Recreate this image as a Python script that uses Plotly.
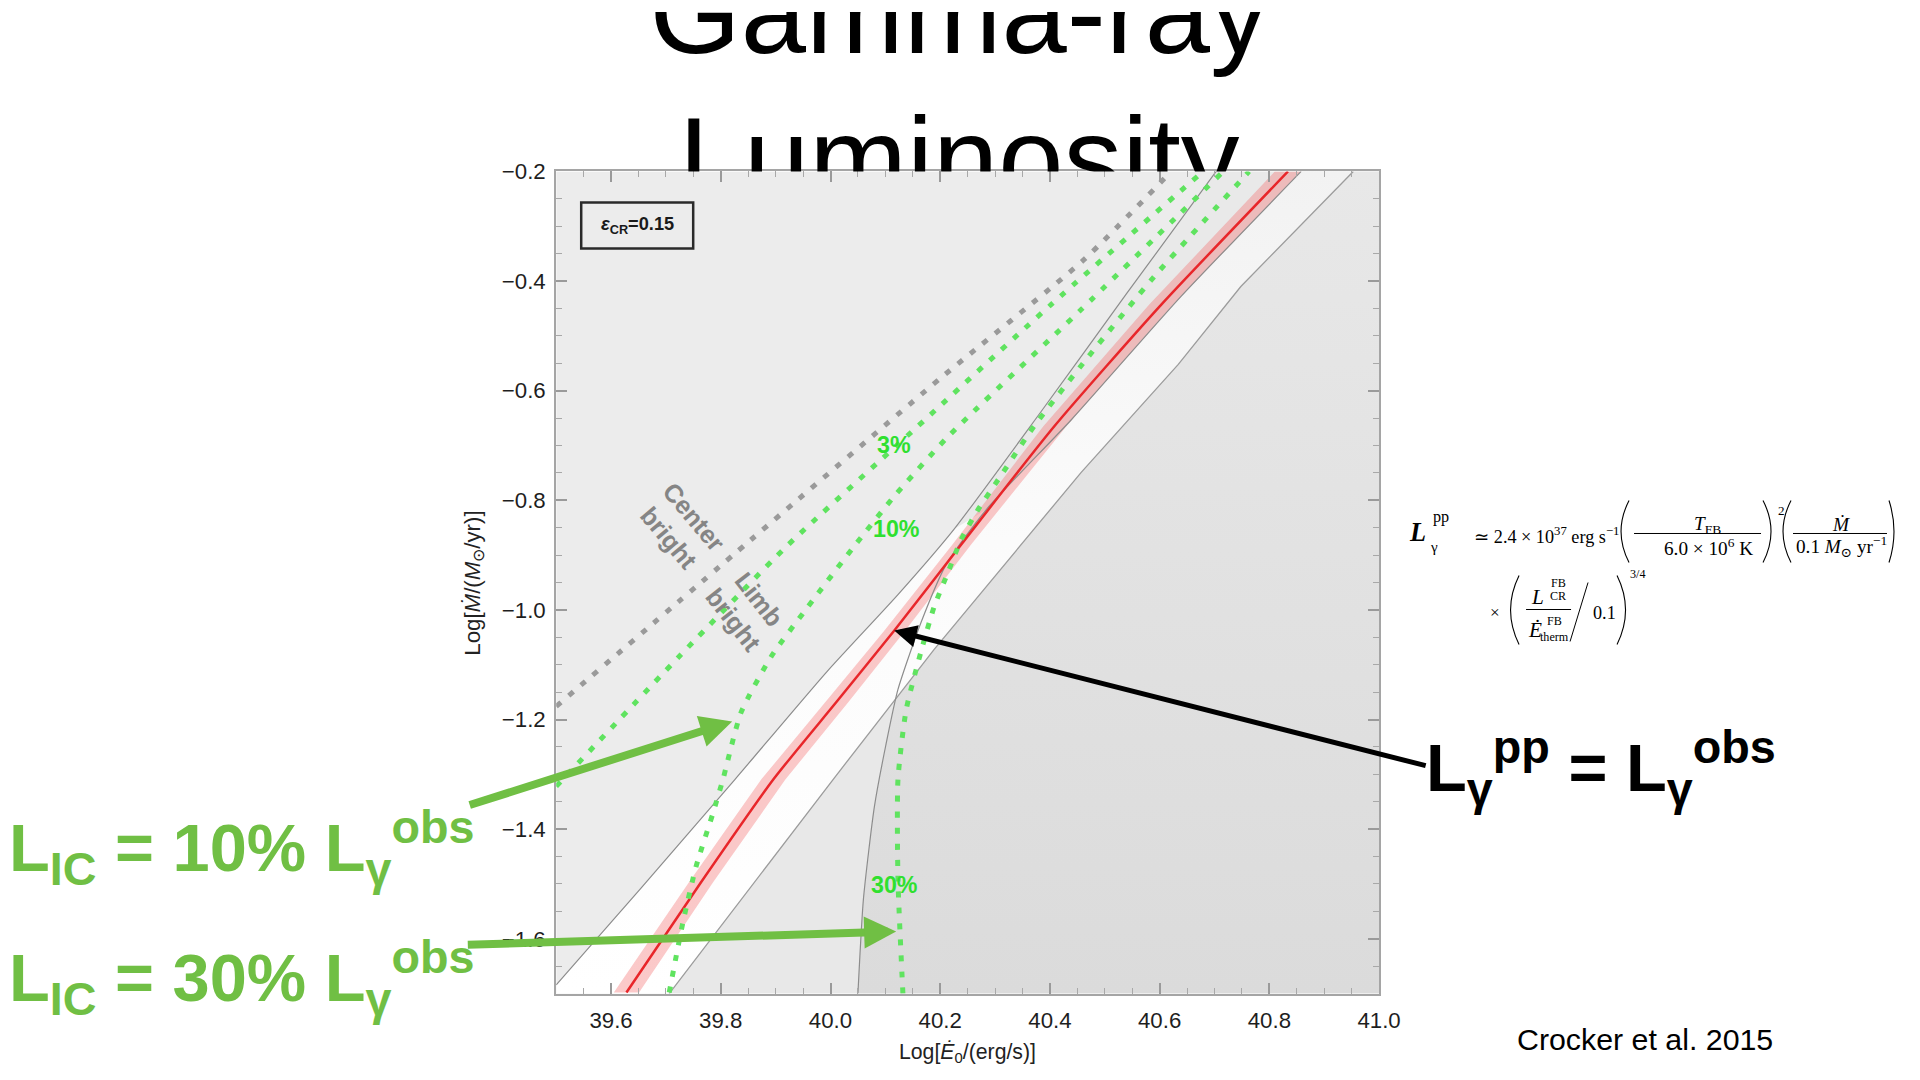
import plotly.graph_objects as go

W_PX, H_PX = 1920, 1080
# the page is photographed slightly reduced and shifted; compensate (observed = SC*page + offset)
SC = 0.9887
OX, OY = -1.3, 12.6
SANS = "Liberation Sans, Arial, sans-serif"
SERIF = "Liberation Serif, DejaVu Serif, serif"

# ---------------- data ----------------
x_range = [39.5, 41.0]
y_range = [-1.7, -0.2]

# L_gamma^pp = L_gamma^obs (red) and its uncertainty band
red_x = [39.628, 39.764, 39.896, 40.010, 40.116, 40.238, 40.408, 40.603, 40.834]
red_y = [-1.698, -1.497, -1.309, -1.169, -1.038, -0.881, -0.665, -0.443, -0.200]
band_lo_x = [39.605, 39.742, 39.874, 39.990, 40.098, 40.222, 40.388, 40.581, 40.810]
band_hi_x = [39.651, 39.786, 39.918, 40.032, 40.136, 40.256, 40.430, 40.625, 40.858]

# thin grey boundary curves
A_x = [39.500, 39.655, 39.826, 39.994, 40.123, 40.225, 40.384, 40.539, 40.703]
A_y = [-1.684, -1.507, -1.309, -1.112, -0.972, -0.853, -0.638, -0.424, -0.200]
B_x = [40.050, 40.060, 40.080, 40.101, 40.123, 40.165, 40.211, 40.284, 40.439, 40.639, 40.858]
B_y = [-1.700, -1.528, -1.359, -1.246, -1.145, -1.023, -0.917, -0.817, -0.653, -0.428, -0.200]
# staircase edge of the excluded region
S_x = [39.706, 40.005, 40.189, 40.329, 40.457, 40.634, 40.748, 40.953]
S_y = [-1.700, -1.309, -1.072, -0.903, -0.749, -0.552, -0.410, -0.200]

# L_IC / L_obs contours (green dotted): 3 %, 10 %, 30 %
G3pc_x = [39.500, 39.728, 39.923, 40.147, 40.402, 40.679]
G3pc_y = [-1.322, -1.081, -0.881, -0.676, -0.443, -0.200]
G10_x = [39.706, 39.731, 39.755, 39.786, 39.804, 39.837, 39.892, 39.959, 40.043, 40.116, 40.214, 40.457, 40.716]
G10_y = [-1.698, -1.570, -1.468, -1.370, -1.309, -1.187, -1.085, -0.994, -0.884, -0.793, -0.684, -0.452, -0.200]
G30_x = [40.132, 40.123, 40.123, 40.138, 40.165, 40.189, 40.214, 40.238, 40.269, 40.306, 40.371, 40.470, 40.590, 40.763]
G30_y = [-1.700, -1.492, -1.309, -1.182, -1.076, -0.994, -0.932, -0.872, -0.817, -0.762, -0.665, -0.538, -0.392, -0.200]

# centre-bright / limb-bright divide (grey dashed)
D_x = [39.500, 39.855, 40.202, 40.462, 40.621]
D_y = [-1.176, -0.872, -0.576, -0.361, -0.200]

title_lines = ["Gamma-ray", "Luminosity"]


def fs(size):
    return size / SC


def P(xpx, ypx):
    """target picture pixel -> paper fraction"""
    px = (xpx - OX) / SC
    py = (ypx - OY) / SC
    return px / W_PX, 1 - py / H_PX


fig = go.Figure()


def fill(x, y, color=None, grad=None):
    kw = dict(x=x, y=y, mode="none", fill="toself", hoverinfo="skip", showlegend=False)
    if grad is not None:
        kw["fillgradient"] = dict(type="vertical", colorscale=grad)
    else:
        kw["fillcolor"] = color
    fig.add_trace(go.Scatter(**kw))


def line(x, y, color, width, dash=None, shape="spline"):
    fig.add_trace(go.Scatter(x=x, y=y, mode="lines", hoverinfo="skip", showlegend=False,
                             line=dict(color=color, width=width, dash=dash, shape=shape, smoothing=0.6)))


fill([x_range[0], x_range[1], x_range[1], x_range[0]],
     [y_range[0], y_range[0], y_range[1], y_range[1]], "#ececec")
fill(S_x + [x_range[1], x_range[1]], S_y + [y_range[1], y_range[0]], "#e8e8e8")
fill(B_x + [x_range[1], x_range[1]], B_y + [y_range[1], y_range[0]],
     grad=[[0, "#dbdbdb"], [1, "#e8e8e8"]])
fill([x_range[0]] + A_x + S_x[::-1], [y_range[0]] + A_y + S_y[::-1],
     grad=[[0, "#ffffff"], [0.55, "#fbfbfb"], [1, "#f2f2f2"]])
fill(A_x[5:] + B_x[7:][::-1], A_y[5:] + B_y[7:][::-1], "#e9e9e9")
fill(band_lo_x + band_hi_x[::-1], red_y + red_y[::-1], "rgba(245,105,105,0.36)")

line(S_x, S_y, "#9c9c9c", 1.3, shape="linear")
line(B_x, B_y, "#8c8c8c", 1.2)
line(A_x, A_y, "#8c8c8c", 1.2)
line(red_x, red_y, "#e8262a", 2.5)
line(D_x, D_y, "#9a9a9a", 5, dash="6px,10px")
for gx, gy in [(G3pc_x, G3pc_y), (G10_x, G10_y), (G30_x, G30_y)]:
    line(gx, gy, "#5fe35f", 5, dash="6px,10px")

# slide title, clipped by the chart below it
fig.add_trace(go.Scatter(x=[958, 958], y=[24, 170], text=title_lines, mode="text",
                         textposition="middle center", cliponaxis=True, hoverinfo="skip",
                         showlegend=False, xaxis="x2", yaxis="y2",
                         textfont=dict(family=SANS, size=fs(116), color="black")))

ax_common = dict(showgrid=False, zeroline=False, showline=True, linecolor="#a5a5a5", linewidth=2,
                 mirror="ticks", ticks="inside", ticklen=11, tickwidth=1.5, tickcolor="#9a9a9a",
                 tickformat=".1f", dtick=0.2,
                 tickfont=dict(family=SANS, size=fs(22), color="#1e1e1e"),
                 minor=dict(dtick=0.05, ticks="inside", ticklen=6, tickwidth=1.2, tickcolor="#a8a8a8"))

fig.update_layout(
    width=W_PX, height=H_PX, margin=dict(l=0, r=0, t=0, b=0),
    paper_bgcolor="white", plot_bgcolor="white", showlegend=False,
    font=dict(family=SANS),
    xaxis=dict(domain=[P(555, 0)[0], P(1378, 0)[0]], range=x_range, tick0=39.6, anchor="y",
               ticklabelstandoff=6, **ax_common),
    yaxis=dict(domain=[P(0, 994)[1], P(0, 172)[1]], range=y_range, tick0=-0.2, anchor="x",
               ticklabelstandoff=4, **ax_common),
    xaxis2=dict(domain=[0, 1], range=[OX, OX + W_PX * SC], visible=False, anchor="y2"),
    yaxis2=dict(domain=[P(0, 172)[1], 1], range=[172, OY], visible=False, anchor="x2"),
)


def txt(text, xpx, ypx, size, color="black", family=SANS, xanchor="center", yanchor="middle", **kw):
    x, y = P(xpx, ypx)
    return dict(text=text, x=x, y=y, xref="paper", yref="paper", showarrow=False,
                font=dict(size=fs(size), color=color, family=family),
                xanchor=xanchor, yanchor=yanchor, **kw)


def arrow(head, tail, color, width, size):
    x, y = P(*head)
    return dict(text="", x=x, y=y, xref="paper", yref="paper",
                ax=(tail[0] - head[0]) / SC, ay=(tail[1] - head[1]) / SC,
                axref="pixel", ayref="pixel", showarrow=True, arrowhead=2, arrowwidth=width,
                arrowsize=size, arrowcolor=color, standoff=0)


def dlabel(text, x, y, size, color, **kw):
    return dict(text=text, x=x, y=y, xref="x", yref="y", showarrow=False,
                font=dict(size=fs(size), color=color, family=SANS), **kw)


ann = []
ann.append(txt("Log[<i>Ė</i><sub>0</sub>/(erg/s)]", 966, 1053, 21, color="#222"))
ann.append(txt("Log[<i>Ṁ</i>/(<i>M</i><sub>⊙</sub>/yr)]", 472, 584, 22, color="#222", textangle=-90))
ann.append(txt("<b><i>ε</i><sub>CR</sub>=0.15</b>", 636, 226, 18, color="#1a1a1a"))
GL = "#2fe02f"
ann.append(dlabel("<b>3%</b>", 40.116, -0.700, 23, GL))
ann.append(dlabel("<b>10%</b>", 40.120, -0.853, 23, GL))
ann.append(dlabel("<b>30%</b>", 40.116, -1.501, 23, GL))
ann.append(dlabel("<b>Center<br>bright</b>", 39.728, -0.850, 25, "#858585", textangle=50))
ann.append(dlabel("<b>Limb<br>bright</b>", 39.846, -1.000, 25, "#858585", textangle=52))

ann.append(arrow((893, 631), (1420, 765), "black", 5, 0.9))
ann.append(arrow((731, 722), (470, 805), "#70bf44", 8, 0.8))
ann.append(arrow((895, 932), (470, 945), "#70bf44", 8, 0.8))

GREEN = "#70bf44"
ann.append(txt("<b>L<sub>IC</sub> = 10% L<sub>γ</sub><sup>obs</sup></b>", 6, 848, 66, color=GREEN, xanchor="left"))
ann.append(txt("<b>L<sub>IC</sub> = 30% L<sub>γ</sub><sup>obs</sup></b>", 6, 978, 66, color=GREEN, xanchor="left"))
ann.append(txt("<b>L<sub>γ</sub><sup>pp</sup> = L<sub>γ</sub><sup>obs</sup></b>", 1423, 768, 66, xanchor="left"))
ann.append(txt("Crocker et al. 2015", 1644, 1040, 30))

# formula, line 1
ann.append(txt("<b><i>L</i></b>", 1416, 533, 26, family=SERIF))
ann.append(txt("γ", 1433, 547, 15, family=SERIF))
ann.append(txt("pp", 1440, 518, 16, family=SERIF))
ann.append(txt("≃ 2.4 × 10<sup>37</sup> erg s<sup>−1</sup>", 1471, 536, 18, family=SERIF, xanchor="left"))
ann.append(txt("<i>T</i><sub>FB</sub>", 1706, 526, 19, family=SERIF))
ann.append(txt("6.0 × 10<sup>6</sup> K", 1707, 547, 19, family=SERIF))
ann.append(txt("2", 1780, 511, 13, family=SERIF))
ann.append(txt("<i>Ṁ</i>", 1840, 525, 19, family=SERIF))
ann.append(txt("0.1 <i>M</i><sub>⊙</sub> yr<sup>−1</sup>", 1840, 547, 19, family=SERIF))
# formula, line 2
ann.append(txt("×", 1494, 613, 17, family=SERIF))
ann.append(txt("<i>L</i>", 1536, 597, 21, family=SERIF))
ann.append(txt("FB", 1557, 583, 12, family=SERIF))
ann.append(txt("CR", 1557, 596, 12, family=SERIF))
ann.append(txt("<i>Ė</i>", 1534, 630, 21, family=SERIF))
ann.append(txt("FB", 1553, 621, 12, family=SERIF))
ann.append(txt("therm", 1553, 637, 12, family=SERIF))
ann.append(txt("0.1", 1603, 613, 18, family=SERIF))
ann.append(txt("3/4", 1637, 574, 12, family=SERIF))

shapes = []
bx0, by0 = P(580, 203)
bx1, by1 = P(692, 249)
shapes.append(dict(type="rect", xref="paper", yref="paper", x0=bx0, y0=by1, x1=bx1, y1=by0,
                   line=dict(color="#2a2a2a", width=2.5), fillcolor="rgba(0,0,0,0)"))


def hline(x0, x1, ypx):
    a, b = P(x0, ypx)
    c, _ = P(x1, ypx)
    return dict(type="line", xref="paper", yref="paper", x0=a, x1=c, y0=b, y1=b,
                line=dict(color="black", width=1))


def paren(xend, xctrl, ytop, ybot):
    x0, y0 = P(xend, ytop)
    cx, cy = P(xctrl, (ytop + ybot) / 2)
    x1, y1 = P(xend, ybot)
    return dict(type="path", xref="paper", yref="paper",
                path=f"M {x0},{y0} Q {cx},{cy} {x1},{y1}", line=dict(color="black", width=1.1))


shapes += [
    paren(1628, 1612, 501, 563), hline(1633, 1760, 534), paren(1762, 1778, 501, 563),
    paren(1790, 1774, 501, 563), hline(1792, 1886, 534), paren(1888, 1898, 501, 563),
    paren(1518, 1501, 576, 645), hline(1525, 1570, 610), paren(1616, 1633, 576, 645),
]
sx0, sy0 = P(1587, 583)
sx1, sy1 = P(1569, 642)
shapes.append(dict(type="line", xref="paper", yref="paper", x0=sx0, y0=sy0, x1=sx1, y1=sy1,
                   line=dict(color="black", width=1)))

fig.update_layout(annotations=ann, shapes=shapes)

fig.write_html("out.html", config={"displayModeBar": False},
               post_script="document.body.style.margin='0';document.body.style.overflow='hidden';")
